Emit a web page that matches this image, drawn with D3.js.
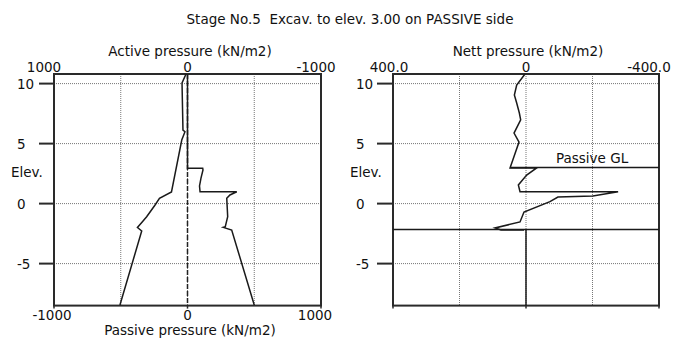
<!DOCTYPE html>
<html>
<head>
<meta charset="utf-8">
<script src="https://cdn.jsdelivr.net/npm/d3@7"></script>
<style>
  body { margin: 0; background: #fff; }
  text { font-family: "DejaVu Sans", Verdana, sans-serif; font-size: 13.5px; fill: #111; white-space: pre; }
</style>
</head>
<body>
<div id="chart"></div>
<script>
// elevations (m) and pressures (kN/m2)
var activeElev = [10.8, 10.05, 6.13, 5.99, 5.3, 0.97, 0.43, -0.12, -1.09, -1.45, -1.99, -2.28, -8.45];
var activeVals = [11, 41, 34, 19, 43, 120, 210, 243, 306, 333, 375, 343, 506];

var passiveElev = [10.8, 2.94, 2.94, 2.8, 2.13, 1.47, 0.99, 0.99, 0.72, 0.44, -1.09, -1.93, -1.98, -2.2, -8.45];
var passiveVals = [0, 0, 114, 116, 101, 90, 94, 369, 318, 294, 301, 283, 268, 331, 500];

var nettElev = [10.8, 9.88, 9.05, 8.38, 7.55, 6.97, 5.88, 5.13, 2.97, 2.97, 2.38, 1.55, 0.99, 0.99, 0.63, 0.55, 0.16, -0.7, -1.53, -2.03, -2.2, -2.2];
var nettVals = [3, 28, 35, 28, 20, 16, 36, 21, 48, -32, -2, 23, 18, -277, -201, -96, -72, 6, 18, 93, 75, 6];

var elevTicks = [10, 5, 0, -5];
var pressTicks = [1000, 0, -1000];
var nettTicks = [400, 0, -400];
var nettTickLabels = ["400.0", "0", "-400.0"];
var passiveGL = 3.0;
var toeElev = -2.15;

var W = 688, H = 341;
var svg = d3.select("#chart").append("svg").attr("width", W).attr("height", H);

var y = d3.scaleLinear().domain([10.8, -8.5]).range([74, 305.6]);

var xAct = d3.scaleLinear().domain([1000, -1000]).range([54, 321]);
var xPas = d3.scaleLinear().domain([-1000, 1000]).range([54, 321]);
var xNett = d3.scaleLinear().domain([400, -400]).range([393, 659]);

var frameColor = "#2a2a2a";

svg.append("text").attr("x", 350).attr("y", 24).attr("text-anchor", "middle")
  .text("Stage No.5  Excav. to elev. 3.00 on PASSIVE side");

function panel(x, left, right, gridX, tickX0, labelX) {
  var g = svg.append("g");
  // dotted grid
  g.selectAll("line.gx").data(gridX).enter().append("line")
    .attr("x1", d => x(d)).attr("x2", d => x(d))
    .attr("y1", y.range()[0]).attr("y2", y.range()[1])
    .attr("stroke", "#777").attr("stroke-dasharray", "1,1");
  g.selectAll("line.gy").data(elevTicks).enter().append("line")
    .attr("x1", left).attr("x2", right)
    .attr("y1", d => y(d)).attr("y2", d => y(d))
    .attr("stroke", "#777").attr("stroke-dasharray", "1,1");
  // frame
  g.append("rect").attr("x", left).attr("y", y.range()[0])
    .attr("width", right - left).attr("height", y.range()[1] - y.range()[0])
    .attr("fill", "none").attr("stroke", frameColor).attr("stroke-width", 2);
  // elevation ticks
  g.selectAll("line.ty").data(elevTicks).enter().append("line")
    .attr("x1", tickX0).attr("x2", left)
    .attr("y1", d => y(d)).attr("y2", d => y(d))
    .attr("stroke", frameColor).attr("stroke-width", 2);
  g.selectAll("text.ty").data(elevTicks).enter().append("text")
    .attr("x", labelX).attr("y", d => y(d) + 5)
    .text(d => d);
  g.append("text").attr("x", labelX - 6).attr("y", 177).text("Elev.");
  // bottom ticks
  [left, (left + right) / 2, right].forEach(function(px) {
    g.append("line").attr("x1", px).attr("x2", px)
      .attr("y1", y.range()[1]).attr("y2", y.range()[1] + 3)
      .attr("stroke", frameColor).attr("stroke-width", 1.5);
  });
  return g;
}

// ---- left panel
var gl = panel(xAct, 54, 321, [500, 0, -500], 39, 17);

gl.append("line").attr("x1", xPas(0)).attr("x2", xPas(0))
  .attr("y1", y(10.8)).attr("y2", y.range()[1])
  .attr("stroke", "#222").attr("stroke-width", 1.5).attr("stroke-dasharray", "5,2");

var lineA = d3.line().x((d, i) => xAct(activeVals[i])).y(d => y(d));
var lineP = d3.line().x((d, i) => xPas(passiveVals[i])).y(d => y(d));
gl.append("path").attr("d", lineA(activeElev)).attr("fill", "none")
  .attr("stroke", "#1a1a1a").attr("stroke-width", 1.5);
gl.append("path").attr("d", lineP(passiveElev)).attr("fill", "none")
  .attr("stroke", "#1a1a1a").attr("stroke-width", 1.5);

var topDx = [-10, 0, -5];
pressTicks.forEach(function(v, i) {
  svg.append("text").attr("x", xAct(v) + topDx[i]).attr("y", 72)
    .attr("text-anchor", "middle").text(v);
});
var botDx = [-2, 0, -6];
[-1000, 0, 1000].forEach(function(v, i) {
  svg.append("text").attr("x", xPas(v) + botDx[i]).attr("y", 320)
    .attr("text-anchor", "middle").text(v);
});
svg.append("text").attr("x", 190).attr("y", 56).attr("text-anchor", "middle")
  .text("Active pressure (kN/m2)");
svg.append("text").attr("x", 190).attr("y", 335).attr("text-anchor", "middle")
  .text("Passive pressure (kN/m2)");

// ---- right panel
var gr = panel(xNett, 393, 659, [200, 0, -200], 377, 356);

gr.append("line").attr("x1", xNett(48)).attr("x2", xNett(-400))
  .attr("y1", y(passiveGL)).attr("y2", y(passiveGL))
  .attr("stroke", "#1a1a1a").attr("stroke-width", 1.5);
gr.append("text").attr("x", 556).attr("y", 163).text("Passive GL");

gr.append("line").attr("x1", xNett(400)).attr("x2", xNett(-400))
  .attr("y1", y(toeElev)).attr("y2", y(toeElev))
  .attr("stroke", "#1a1a1a").attr("stroke-width", 1.5);
gr.append("line").attr("x1", xNett(0)).attr("x2", xNett(0))
  .attr("y1", y(toeElev)).attr("y2", y.range()[1])
  .attr("stroke", "#1a1a1a").attr("stroke-width", 1.5);

var lineN = d3.line().x((d, i) => xNett(nettVals[i])).y(d => y(d));
gr.append("path").attr("d", lineN(nettElev)).attr("fill", "none")
  .attr("stroke", "#1a1a1a").attr("stroke-width", 1.5);

var nettDx = [-4, 0, -10];
nettTicks.forEach(function(v, i) {
  svg.append("text").attr("x", xNett(v) + nettDx[i]).attr("y", 72)
    .attr("text-anchor", "middle").text(nettTickLabels[i]);
});
svg.append("text").attr("x", 528).attr("y", 56).attr("text-anchor", "middle")
  .text("Nett pressure (kN/m2)");
</script>
</body>
</html>
